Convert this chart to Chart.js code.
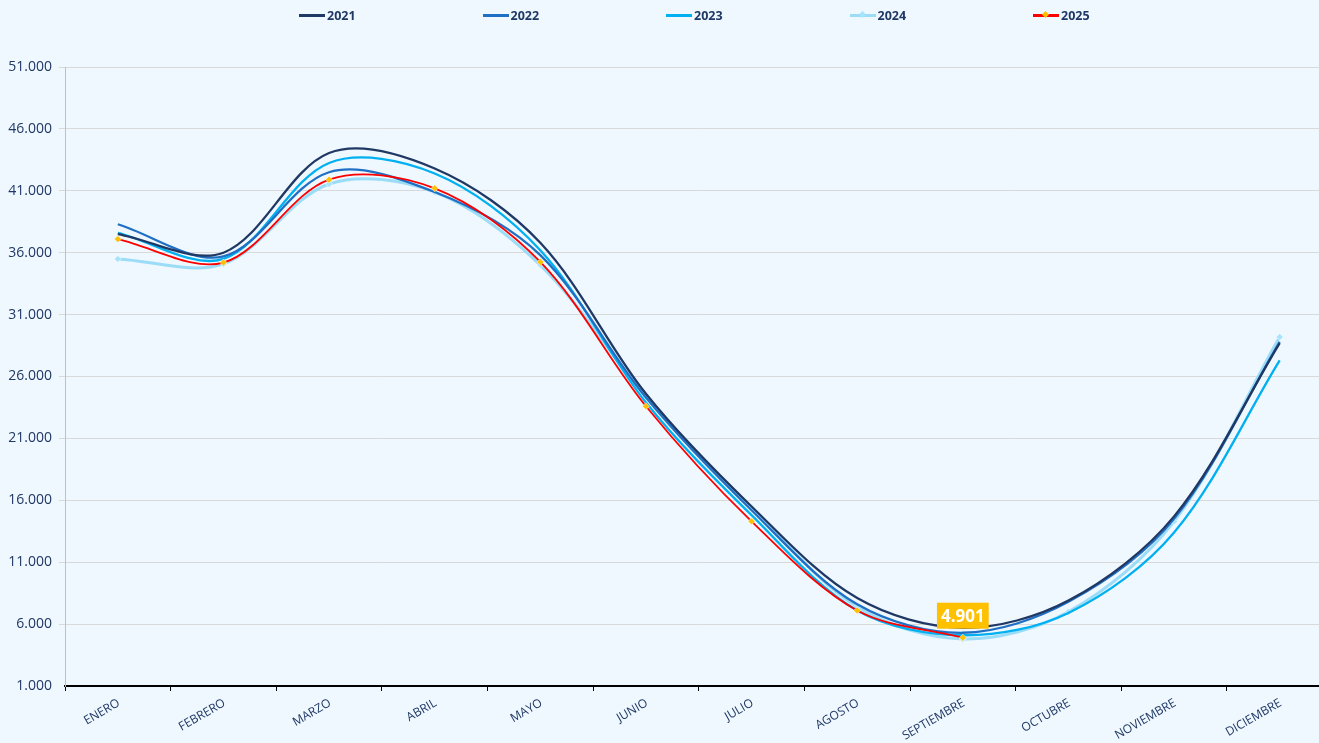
<!DOCTYPE html>
<html>
<head>
<meta charset="utf-8">
<script src="https://cdn.jsdelivr.net/npm/chart.js@4.4.1/dist/chart.umd.min.js"></script>
<style>
  html, body { margin: 0; padding: 0; background: #eff7ff; overflow: hidden; }
  #wrap { position: relative; width: 1337px; height: 743px; }
  #leyenda { position: absolute; left: 299px; top: 6px; display: flex; font-family: 'Open Sans', sans-serif; }
  .item { width: 183.5px; display: flex; align-items: center; height: 18px; }
  .linea { position: relative; width: 26px; height: 3px; margin-right: 2px; }
  .rombo { position: absolute; left: 10px; top: -2px; width: 5px; height: 5px; transform: rotate(45deg); }
  .txt { font-size: 12.5px; font-weight: bold; color: #1f3864; }
</style>
</head>
<body>
<div id="wrap">
  <canvas id="line-chart" width="1337" height="743"></canvas>
  <div id="leyenda"></div>
</div>
<script>
// meses y valores
var meses = ['ENERO', 'FEBRERO', 'MARZO', 'ABRIL', 'MAYO', 'JUNIO', 'JULIO', 'AGOSTO', 'SEPTIEMBRE', 'OCTUBRE', 'NOVIEMBRE', 'DICIEMBRE'];
var anios = ['2021', '2022', '2023', '2024', '2025'];
var v2021 = [37500, 36000, 44050, 42800, 36800, 24600, 15500, 8100, 5700, 7900, 14700, 28700];
var v2022 = [38300, 35700, 42500, 40900, 35800, 24300, 15200, 7600, 5300, 7800, 14500, 28800];
var v2023 = [37600, 35500, 43250, 42400, 36200, 23900, 14800, 7100, 5100, 6900, 13400, 27300];
var v2024 = [35500, 35100, 41550, 40900, 35000, 24400, 15400, 7400, 4800, 7000, 14300, 29200];
var v2025 = [37100, 35200, 41900, 41200, 35250, 23600, 14300, 7100, 4901];
var yMin = 1000, yMax = 51000, yPaso = 5000;

var colores = ['#203864', '#1f6fc4', '#00b0f0', '#9bdcf7', '#ff0000'];
var marcas = [null, null, null, '#a6e3ff', '#ffc000'];

function puntos(n) {
  return String(n).replace(/\B(?=(\d{3})+(?!\d))/g, '.');
}

// leyenda en html
var ley = document.getElementById('leyenda');
anios.forEach(function (a, i) {
  var it = document.createElement('div');
  it.className = 'item';
  var ln = document.createElement('span');
  ln.className = 'linea';
  ln.style.background = colores[i];
  if (marcas[i]) {
    var r = document.createElement('span');
    r.className = 'rombo';
    r.style.background = marcas[i];
    ln.appendChild(r);
  }
  var t = document.createElement('span');
  t.className = 'txt';
  t.textContent = a;
  it.appendChild(ln);
  it.appendChild(t);
  ley.appendChild(it);
});

// etiqueta del ultimo dato de 2025
var etiqueta = {
  id: 'etiqueta',
  afterDatasetsDraw: function (chart) {
    var meta = chart.getDatasetMeta(4);
    var idx = v2025.length - 1;
    var p = meta.data[idx];
    var ctx = chart.ctx;
    var txt = puntos(v2025[idx]);
    ctx.save();
    ctx.font = 'bold 17px "Open Sans"';
    var w = ctx.measureText(txt).width + 8;
    ctx.fillStyle = '#ffc000';
    ctx.fillRect(p.x - w / 2, p.y - 35, w, 26);
    ctx.fillStyle = '#ffffff';
    ctx.textAlign = 'center';
    ctx.textBaseline = 'middle';
    ctx.fillText(txt, p.x, p.y - 21);
    ctx.restore();
  }
};

function serie(i, datos, ancho, orden) {
  return {
    label: anios[i],
    data: datos,
    borderColor: colores[i],
    backgroundColor: marcas[i] || colores[i],
    borderWidth: ancho,
    pointRadius: marcas[i] ? 3.5 : 0,
    pointStyle: 'rectRot',
    pointBackgroundColor: marcas[i] || colores[i],
    pointBorderColor: marcas[i] ? '#ffffff' : colores[i],
    pointBorderWidth: marcas[i] ? 0.5 : 0,
    tension: 0.33,
    fill: false,
    order: orden
  };
}

new Chart(document.getElementById('line-chart'), {
  type: 'line',
  data: {
    labels: meses,
    datasets: [
      serie(0, v2021, 2.3, 1),
      serie(1, v2022, 2.3, 2),
      serie(2, v2023, 2.3, 3),
      serie(3, v2024, 3, 4),
      serie(4, v2025, 1.8, 0)
    ]
  },
  options: {
    responsive: false,
    animation: false,
    layout: { padding: { top: 67, left: 0, right: 0, bottom: 0 } },
    plugins: {
      legend: { display: false },
      tooltip: { enabled: false }
    },
    scales: {
      x: {
        offset: true,
        afterFit: function (s) { s.height = 57; },
        border: { color: '#000000', width: 2 },
        grid: { offset: true, drawOnChartArea: false, drawTicks: true, tickLength: 5, color: '#000000' },
        ticks: {
          color: '#1f3864',
          font: { family: 'Open Sans', size: 12 },
          minRotation: 30,
          maxRotation: 30,
          labelOffset: 1,
          padding: 5,
          autoSkip: false
        }
      },
      y: {
        min: yMin,
        max: yMax,
        afterFit: function (s) { s.width = 65; },
        border: { color: '#bfbfbf', width: 1 },
        grid: {
          color: function (c) { return c.tick && c.tick.value === yMin ? 'rgba(0,0,0,0)' : '#d9d9d9'; },
          tickLength: 6
        },
        ticks: {
          stepSize: yPaso,
          color: '#1f3864',
          font: { family: 'Open Sans', size: 14 },
          padding: 7,
          callback: function (v) { return puntos(v); }
        }
      }
    }
  },
  plugins: [etiqueta]
});
</script>
</body>
</html>
